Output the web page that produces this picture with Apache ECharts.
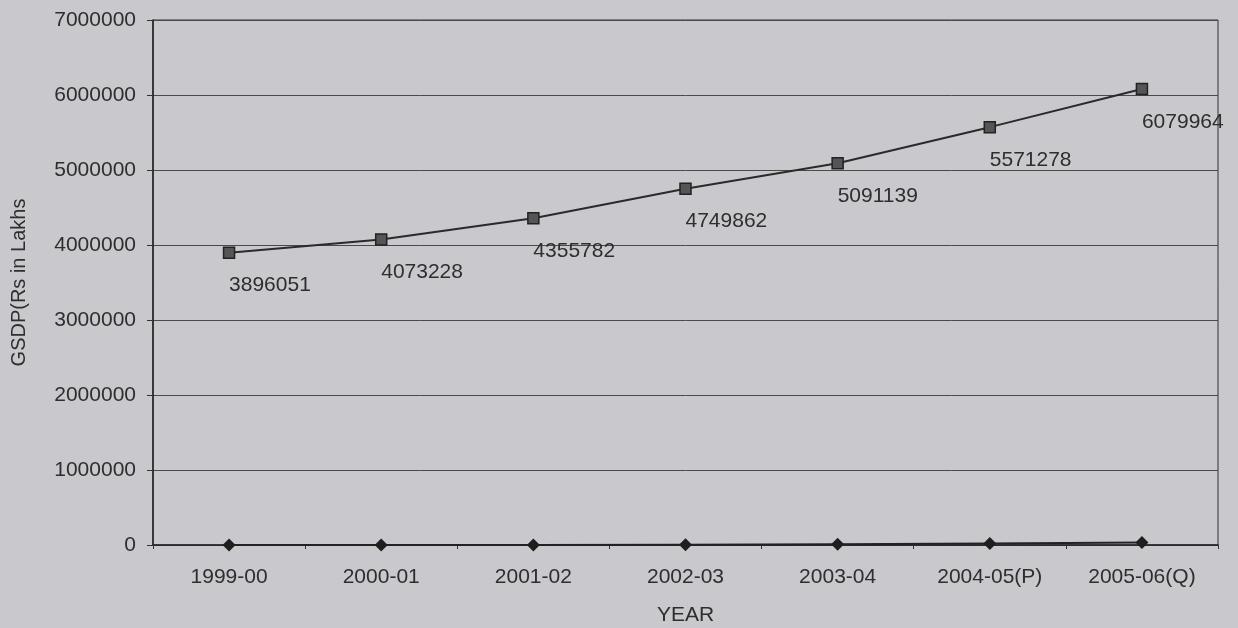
<!DOCTYPE html>
<html>
<head>
<meta charset="utf-8">
<script src="https://cdn.jsdelivr.net/npm/echarts@6/dist/echarts.min.js"></script>
<style>
  html, body { margin: 0; padding: 0; background: #c9c9cd; }
  #chart { width: 1238px; height: 628px; }
</style>
</head>
<body>
<div id="chart"></div>
<script>
// values
var years = ['1999-00', '2000-01', '2001-02', '2002-03', '2003-04', '2004-05(P)', '2005-06(Q)'];
var gsdp = [3896051, 4073228, 4355782, 4749862, 5091139, 5571278, 6079964];
// second series sits on the zero line, only the last points lift a little
var lower = [0, 0, 0, 5000, 10000, 20000, 35000];

var textColor = '#2e2e2e';
var font = 'Liberation Sans, Arial, sans-serif';

var chart = echarts.init(document.getElementById('chart'), null, {renderer: 'canvas'});

var option = {
    backgroundColor: '#c9c9cd',
    animation: false,
    textStyle: {fontFamily: font, color: textColor},
    grid: {
        left: 153,
        right: 20,
        top: 20,
        bottom: 83,
        outerBoundsMode: 'none',
        show: true,
        borderColor: '#333',
        borderWidth: 1
    },
    xAxis: {
        type: 'category',
        data: years,
        boundaryGap: true,
        name: 'YEAR',
        nameLocation: 'middle',
        nameGap: 60,
        nameTextStyle: {fontSize: 21, color: textColor, fontFamily: font},
        axisLine: {lineStyle: {color: '#222', width: 1.5}},
        axisTick: {show: true, length: 4, lineStyle: {color: '#333'}},
        axisLabel: {fontSize: 21, color: textColor, margin: 22, fontFamily: font}
    },
    yAxis: {
        type: 'value',
        min: 0,
        max: 7000000,
        interval: 1000000,
        name: 'GSDP(Rs in Lakhs',
        nameLocation: 'middle',
        nameGap: 124,
        nameRotate: 90,
        nameTextStyle: {fontSize: 20, color: textColor, fontFamily: font},
        axisLine: {show: true, lineStyle: {color: '#222', width: 1.5}},
        axisTick: {show: true, length: 6, lineStyle: {color: '#333'}},
        axisLabel: {
            fontSize: 21,
            color: textColor,
            margin: 17,
            fontFamily: font,
            formatter: function (v) { return String(v); }
        },
        splitLine: {show: true, lineStyle: {color: '#4a4a4a', width: 1}}
    },
    series: [
        {
            name: 'GSDP',
            type: 'line',
            data: gsdp,
            symbol: 'rect',
            symbolSize: 11,
            lineStyle: {color: '#2a2a2a', width: 2},
            itemStyle: {color: '#555', borderColor: '#222', borderWidth: 1.5},
            label: {
                show: true,
                position: 'bottom',
                align: 'left',
                offset: [0, 11],
                fontSize: 21,
                color: textColor,
                fontFamily: font
            },
            z: 3
        },
        {
            name: 'lower',
            type: 'line',
            data: lower,
            symbol: 'diamond',
            symbolSize: 13,
            lineStyle: {color: '#222', width: 2},
            itemStyle: {color: '#1e1e1e'},
            z: 4
        }
    ]
};

chart.setOption(option);
</script>
</body>
</html>
